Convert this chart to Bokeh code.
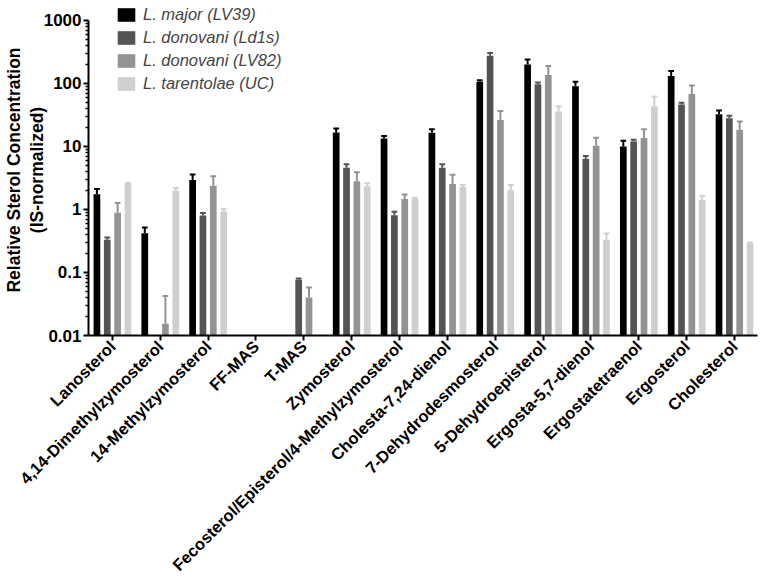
import math
from bokeh.plotting import figure
from bokeh.models import FixedTicker, LogAxis
from bokeh.embed import file_html
from bokeh.resources import INLINE

categories = [
    "Lanosterol", "4,14-Dimethylzymosterol", "14-Methylzymosterol", "FF-MAS",
    "T-MAS", "Zymosterol", "Fecosterol/Episterol/4-Methylzymosterol",
    "Cholesta-7,24-dienol", "7-Dehydrodesmosterol", "5-Dehydroepisterol",
    "Ergosta-5,7-dienol", "Ergostatetraenol", "Ergosterol", "Cholesterol",
]
series_names = ["L. major (LV39)", "L. donovani (Ld1s)", "L. donovani (LV82)", "L. tarentolae (UC)"]

major_lv39_mean = [1.75, 0.42, 2.94, None, None, 16.7, 13.4, 16.5, 106, 200, 90, 10.0, 131, 32.6]
major_lv39_err = [0.37, 0.10, 0.66, None, None, 2.6, 1.2, 2.3, 6, 41, 16, 2.3, 27, 4.7]

donovani_ld1s_mean = [0.33, None, 0.80, None, 0.077, 4.6, 0.81, 4.6, 276, 97, 6.4, 12.0, 46.3, 28.1]
donovani_ld1s_err = [0.03, None, 0.08, None, 0.003, 0.6, 0.11, 0.6, 28, 7, 0.65, 0.8, 2.9, 2.5]

donovani_lv82_mean = [0.89, 0.0153, 2.39, None, 0.040, 2.8, 1.46, 2.54, 26.2, 136, 10.3, 13.6, 68.3, 18.4]
donovani_lv82_err = [0.38, 0.027, 0.98, None, 0.018, 1.1, 0.27, 1.02, 10.5, 53, 3.4, 5.2, 24.4, 6.5]

tarentolae_uc_mean = [2.6, 1.99, 0.93, None, None, 2.34, 1.46, 2.28, 2.02, 36, 0.33, 43.6, 1.42, 0.288]
tarentolae_uc_err = [0.05, 0.21, 0.09, None, None, 0.26, 0.08, 0.17, 0.43, 7.5, 0.086, 18.4, 0.22, 0.012]

y_ticks = [0.01, 0.1, 1, 10, 100, 1000]
y_tick_labels = ["0.01", "0.1", "1", "10", "100", "1000"]
y_title_lines = ["Relative Sterol Concentration", "(IS-normalized)"]

means = [major_lv39_mean, donovani_ld1s_mean, donovani_lv82_mean, tarentolae_uc_mean]
errs = [major_lv39_err, donovani_ld1s_err, donovani_lv82_err, tarentolae_uc_err]
colors = ["#000000", "#545454", "#939393", "#cfcfcf"]
offsets = [-0.324, -0.108, 0.108, 0.324]
BAR_W = 0.14
CAP = 0.06
FONT = "Liberation Sans"

# frame starts 16px above the "1000" tick so the legend has room; axis line bounded to 0.01..1000
Y_TOP = 1000 * 10 ** (16 / 63.2)

p = figure(width=762, height=583, x_range=(-0.5, 13.48), y_range=(0.01, Y_TOP),
           y_axis_type="log", output_backend="svg", toolbar_location=None,
           min_border_left=84, min_border_right=5, min_border_top=4, min_border_bottom=247)

for name, m, e, c, off in zip(series_names, means, errs, colors, offsets):
    idx = [i for i, v in enumerate(m) if v is not None]
    xs = [i + off for i in idx]
    tops = [m[i] for i in idx]
    ups = [m[i] + e[i] for i in idx]
    p.vbar(x=xs, top=tops, bottom=0.01, width=BAR_W, fill_color=c, line_color=None, legend_label=name)
    p.segment(x0=xs, y0=tops, x1=xs, y1=ups, line_color=c, line_width=2)
    p.segment(x0=[x - CAP for x in xs], y0=ups, x1=[x + CAP for x in xs], y1=ups, line_color=c, line_width=2)

minor = [k * 10.0 ** d for d in range(-2, 3) for k in range(2, 10)]
p.yaxis.ticker = FixedTicker(ticks=y_ticks, minor_ticks=minor)
p.yaxis.major_label_overrides = {t: s for t, s in zip(y_ticks, y_tick_labels)}
p.yaxis.bounds = (y_ticks[0], y_ticks[-1])
p.xaxis.ticker = FixedTicker(ticks=list(range(len(categories))))
p.xaxis.major_label_overrides = {i: c for i, c in enumerate(categories)}
p.xaxis.major_label_orientation = math.pi / 4

for ax in (p.xaxis[0], p.yaxis[0]):
    ax.axis_line_width = 2
    ax.axis_line_color = "black"
    ax.major_tick_line_width = 2
    ax.major_tick_line_color = "black"
    ax.major_tick_in = 0
    ax.major_tick_out = 5
    ax.major_label_text_font = FONT
    ax.major_label_text_font_style = "bold"
    ax.major_label_text_color = "black"

p.yaxis.minor_tick_in = 0
p.yaxis.minor_tick_out = 3
p.yaxis.minor_tick_line_width = 1.5
p.yaxis.minor_tick_line_color = "black"
p.yaxis.major_label_text_font_size = "17px"
p.yaxis.major_label_standoff = 2
p.xaxis.minor_tick_out = 0
p.xaxis.major_label_text_font_size = "16.5px"
p.xaxis.major_label_standoff = 3

# second title line on the main y axis, first line on an extra (invisible) outer axis
p.yaxis.axis_label = y_title_lines[1]
p.yaxis.axis_label_standoff = -6
p.yaxis.axis_label_text_font = FONT
p.yaxis.axis_label_text_font_style = "bold"
p.yaxis.axis_label_text_font_size = "17.5px"
p.yaxis.axis_label_text_color = "black"

outer = LogAxis(ticker=FixedTicker(ticks=[]), axis_label=y_title_lines[0],
                bounds=(y_ticks[0], y_ticks[-1]),
                axis_line_color=None, major_tick_out=0, major_tick_in=0,
                minor_tick_out=0, minor_tick_in=0, major_label_standoff=0,
                axis_label_standoff=0, axis_label_text_font=FONT,
                axis_label_text_font_style="bold", axis_label_text_font_size="17.5px",
                axis_label_text_color="black")
p.add_layout(outer, "left")

p.xgrid.visible = False
p.ygrid.visible = False
p.outline_line_color = None

lg = p.legend[0]
lg.location = (27, 242)
lg.label_text_font = FONT
lg.label_text_font_style = "italic"
lg.label_text_font_size = "16.5px"
lg.glyph_width = 22
lg.glyph_height = 17
lg.label_height = 18
lg.label_standoff = 6
lg.spacing = 4
lg.padding = 0
lg.margin = 0
lg.border_line_color = None
lg.background_fill_alpha = 0

open("out.html", "w").write(file_html(p, INLINE))
